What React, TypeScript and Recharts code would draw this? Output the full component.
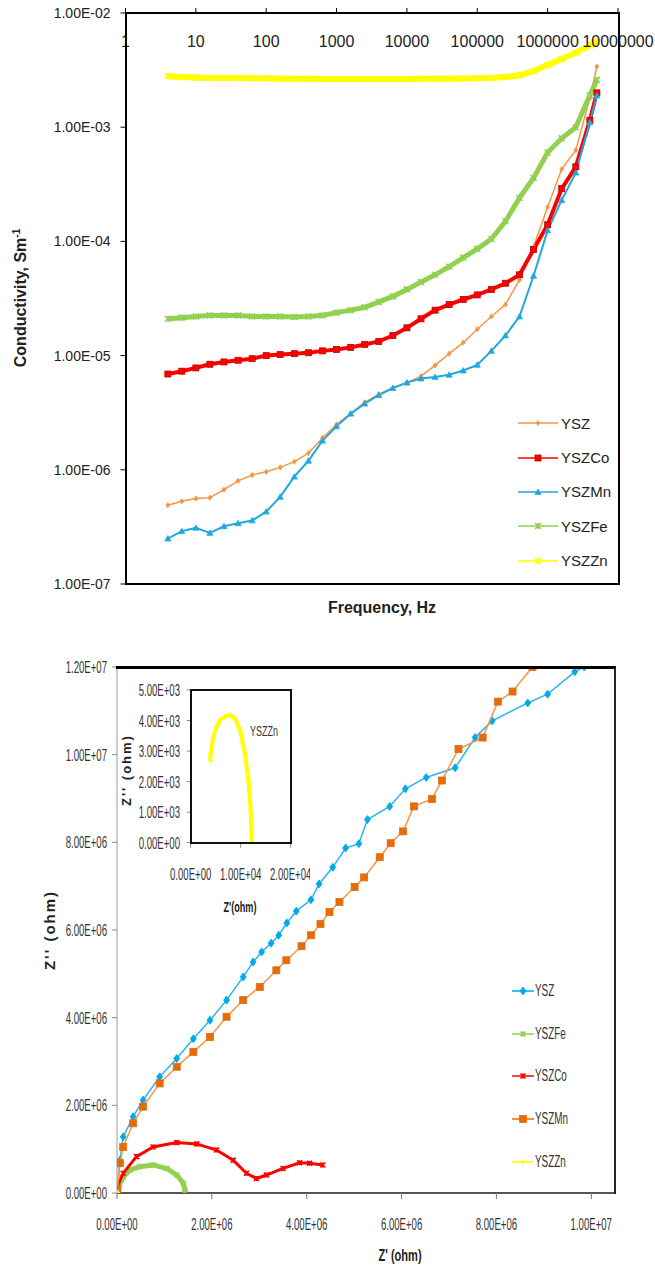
import React from 'react';
import { LineChart, Line, ScatterChart, Scatter, XAxis, YAxis } from 'recharts';

const FONT = '"Liberation Sans", Arial, sans-serif';

// ---- conductivity vs frequency (top panel) ----
const freqHz = [4, 6.3, 10, 15.8, 25.1, 39.8, 63.1, 100, 158, 251, 398, 631, 1000, 1585, 2512, 3981, 6310,
  10000, 15850, 25120, 39810, 63100, 100000, 158500, 251200, 398100, 631000, 1000000, 1585000, 2512000, 3981000, 5012000];
const condYSZ = [4.9e-7, 5.3e-7, 5.6e-7, 5.7e-7, 6.7e-7, 8.0e-7, 9.0e-7, 9.6e-7, 1.05e-6, 1.18e-6, 1.4e-6, 1.9e-6,
  2.5e-6, 3.1e-6, 3.9e-6, 4.6e-6, 5.2e-6, 5.8e-6, 6.6e-6, 8.2e-6, 1.04e-5, 1.3e-5, 1.7e-5, 2.2e-5, 2.8e-5, 4.6e-5,
  9.0e-5, 2.0e-4, 4.3e-4, 6.3e-4, 1.8e-3, 3.4e-3];
const condCo = [6.9e-6, 7.3e-6, 7.8e-6, 8.4e-6, 8.8e-6, 9.1e-6, 9.4e-6, 1.0e-5, 1.02e-5, 1.04e-5, 1.06e-5, 1.1e-5,
  1.13e-5, 1.18e-5, 1.25e-5, 1.33e-5, 1.5e-5, 1.75e-5, 2.1e-5, 2.5e-5, 2.8e-5, 3.1e-5, 3.4e-5, 3.8e-5, 4.3e-5, 5.1e-5,
  8.5e-5, 1.4e-4, 2.9e-4, 4.5e-4, 1.15e-3, 2.0e-3];
const condMn = [2.5e-7, 2.9e-7, 3.1e-7, 2.8e-7, 3.2e-7, 3.4e-7, 3.6e-7, 4.3e-7, 5.8e-7, 8.7e-7, 1.2e-6, 1.8e-6,
  2.4e-6, 3.1e-6, 3.8e-6, 4.5e-6, 5.2e-6, 5.8e-6, 6.3e-6, 6.5e-6, 6.8e-6, 7.4e-6, 8.3e-6, 1.1e-5, 1.5e-5, 2.2e-5,
  5.0e-5, 1.25e-4, 2.3e-4, 4.0e-4, 1.1e-3, 1.9e-3];
const condFe = [2.1e-5, 2.15e-5, 2.2e-5, 2.25e-5, 2.25e-5, 2.25e-5, 2.2e-5, 2.2e-5, 2.2e-5, 2.18e-5, 2.2e-5, 2.25e-5,
  2.38e-5, 2.5e-5, 2.65e-5, 2.95e-5, 3.3e-5, 3.8e-5, 4.4e-5, 5.1e-5, 6.0e-5, 7.2e-5, 8.6e-5, 1.05e-4, 1.5e-4, 2.4e-4,
  3.6e-4, 6.0e-4, 8.0e-4, 1.0e-3, 1.9e-3, 2.6e-3];
const condZn = [2.8e-3, 2.75e-3, 2.72e-3, 2.7e-3, 2.7e-3, 2.7e-3, 2.68e-3, 2.68e-3, 2.66e-3, 2.65e-3, 2.65e-3, 2.64e-3,
  2.64e-3, 2.64e-3, 2.64e-3, 2.64e-3, 2.64e-3, 2.64e-3, 2.65e-3, 2.65e-3, 2.66e-3, 2.67e-3, 2.68e-3, 2.7e-3, 2.75e-3,
  2.85e-3, 3.1e-3, 3.5e-3, 3.95e-3, 4.5e-3, 5.2e-3, 5.6e-3];
const freqTicks = [1, 10, 100, 1000, 10000, 100000, 1000000, 10000000];
const condTicks = [1e-7, 1e-6, 1e-5, 1e-4, 1e-3, 1e-2];

// ---- Nyquist plot (bottom panel), [Z', Z''] in ohm ----
const nyqYSZ = [[0.01e6, 0.1e6], [0.063e6, 0.75e6], [0.13e6, 1.28e6], [0.34e6, 1.74e6], [0.55e6, 2.12e6], [0.9e6, 2.65e6],
  [1.26e6, 3.07e6], [1.61e6, 3.52e6], [1.96e6, 3.94e6], [2.31e6, 4.4e6], [2.66e6, 4.93e6], [2.87e6, 5.27e6],
  [3.05e6, 5.5e6], [3.25e6, 5.7e6], [3.41e6, 5.88e6], [3.58e6, 6.16e6], [3.78e6, 6.43e6], [4.09e6, 6.69e6],
  [4.26e6, 7.05e6], [4.55e6, 7.43e6], [4.82e6, 7.87e6], [5.1e6, 7.97e6], [5.28e6, 8.52e6], [5.75e6, 8.82e6],
  [6.08e6, 9.22e6], [6.52e6, 9.48e6], [7.13e6, 9.7e6], [7.55e6, 10.39e6], [7.91e6, 10.77e6], [8.66e6, 11.18e6],
  [9.08e6, 11.38e6], [9.65e6, 11.89e6], [9.85e6, 12.0e6]];
const nyqMn = [[0.01e6, 0.1e6], [0.063e6, 0.68e6], [0.13e6, 1.05e6], [0.34e6, 1.59e6], [0.55e6, 1.97e6], [0.9e6, 2.5e6],
  [1.26e6, 2.88e6], [1.61e6, 3.22e6], [1.96e6, 3.56e6], [2.31e6, 4.02e6], [2.66e6, 4.4e6], [3.01e6, 4.7e6],
  [3.36e6, 5.08e6], [3.57e6, 5.31e6], [3.89e6, 5.63e6], [4.09e6, 5.88e6], [4.29e6, 6.14e6], [4.48e6, 6.41e6],
  [4.69e6, 6.64e6], [5.01e6, 6.98e6], [5.21e6, 7.2e6], [5.54e6, 7.66e6], [5.77e6, 7.98e6], [6.03e6, 8.25e6],
  [6.26e6, 8.82e6], [6.64e6, 8.99e6], [6.85e6, 9.41e6], [7.2e6, 10.13e6], [7.71e6, 10.39e6], [8.03e6, 11.21e6],
  [8.34e6, 11.44e6], [8.76e6, 12.0e6]];
const nyqFe = [[0.005e6, 0.07e6], [0.133e6, 0.37e6], [0.27e6, 0.52e6], [0.48e6, 0.6e6], [0.76e6, 0.64e6],
  [1.05e6, 0.56e6], [1.26e6, 0.41e6], [1.4e6, 0.22e6], [1.43e6, 0.07e6], [1.44e6, 0.02e6]];
const nyqCo = [[0.005e6, 0.14e6], [0.13e6, 0.45e6], [0.41e6, 0.83e6], [0.76e6, 1.05e6], [1.26e6, 1.15e6],
  [1.68e6, 1.12e6], [2.1e6, 0.98e6], [2.45e6, 0.75e6], [2.73e6, 0.45e6], [2.94e6, 0.33e6], [3.15e6, 0.41e6],
  [3.5e6, 0.56e6], [3.85e6, 0.69e6], [4.06e6, 0.68e6], [4.34e6, 0.64e6]];
const nyqZn = [[3900, 2700], [4000, 2930], [4520, 3470], [5200, 3800], [5860, 4020], [6860, 4125], [7860, 4180],
  [8860, 4070], [9860, 3690], [10860, 2930], [11530, 2050], [12000, 1070], [12200, 0]];
const zReTicks = [0, 2e6, 4e6, 6e6, 8e6, 1e7];
const zImTicks = [0, 2e6, 4e6, 6e6, 8e6, 1e7, 1.2e7];
const insetReTicks = [0, 1e4, 2e4];
const insetImTicks = [0, 1000, 2000, 3000, 4000, 5000];

const fmtSci = (v: number) => {
  if (v === 0) return '0.00E+00';
  const e = Math.floor(Math.log10(Math.abs(v)) + 1e-9);
  const m = v / Math.pow(10, e);
  return `${m.toFixed(2)}E${e < 0 ? '-' : '+'}${String(Math.abs(e)).padStart(2, '0')}`;
};

const condData = freqHz.map((f, i) => ({
  f, ysz: condYSZ[i], co: condCo[i], mn: condMn[i], fe: condFe[i], zn: condZn[i],
}));
const toXY = (pts: number[][]) => pts.map(([x, y]) => ({ x, y }));

type Kind = 'diamond' | 'square' | 'triangle' | 'star' | 'plus';

// small Excel-like marker shapes
const Marker = ({ cx, cy, kind, color, edge, s }: { cx: number; cy: number; kind: Kind; color: string; edge?: string; s: number }) => {
  if (cx == null || cy == null || isNaN(cx) || isNaN(cy)) return null;
  const e = edge || color;
  switch (kind) {
    case 'diamond':
      return <path d={`M${cx},${cy - s}L${cx + s * 0.75},${cy}L${cx},${cy + s}L${cx - s * 0.75},${cy}Z`} fill={color} stroke={e} strokeWidth={0.8} />;
    case 'square':
      return <rect x={cx - s} y={cy - s} width={2 * s} height={2 * s} fill={color} stroke={e} strokeWidth={0.8} />;
    case 'triangle':
      return <path d={`M${cx},${cy - s}L${cx + s},${cy + s * 0.8}L${cx - s},${cy + s * 0.8}Z`} fill={color} stroke={e} strokeWidth={0.8} />;
    case 'star':
      return <path d={`M${cx - s},${cy - s}L${cx + s},${cy + s}M${cx - s},${cy + s}L${cx + s},${cy - s}M${cx},${cy - s}L${cx},${cy + s}`} stroke={color} strokeWidth={1.6} fill="none" />;
    default:
      return <path d={`M${cx - s},${cy}L${cx + s},${cy}M${cx},${cy - s}L${cx},${cy + s}`} stroke={color} strokeWidth={1.6} fill="none" />;
  }
};

// compressed text, the lower chart uses a narrow face
const SqText = ({ x, y, sx = 0.6, anchor = 'middle', size = 16, weight = 'normal', rotate = false, fill = '#333', spacing = 0, children }: any) => (
  <text transform={`translate(${x},${y})${rotate ? ' rotate(-90)' : ''} scale(${sx},1)`} textAnchor={anchor}
    fontSize={size} fontWeight={weight} fill={fill} letterSpacing={spacing} fontFamily={FONT}>{children}</text>
);

const topSeries = [
  { key: 'ysz', name: 'YSZ', color: '#F79646', kind: 'diamond' as Kind, width: 1.5, s: 2.6 },
  { key: 'co', name: 'YSZCo', color: '#FF0000', edge: '#C00000', kind: 'square' as Kind, width: 4, s: 3 },
  { key: 'mn', name: 'YSZMn', color: '#1FA8E0', kind: 'triangle' as Kind, width: 2, s: 3 },
  { key: 'fe', name: 'YSZFe', color: '#92D050', kind: 'star' as Kind, width: 5, s: 3 },
  { key: 'zn', name: 'YSZZn', color: '#FFFF00', kind: 'star' as Kind, width: 6, s: 3 },
];

const bottomSeries = [
  { name: 'YSZ', pts: nyqYSZ, line: '#29B5EE', color: '#00A8EC', kind: 'diamond' as Kind, width: 1.5, s: 4 },
  { name: 'YSZFe', pts: nyqFe, line: '#92D050', color: '#92D050', kind: 'star' as Kind, width: 5, s: 2.5 },
  { name: 'YSZCo', pts: nyqCo, line: '#FF0000', color: '#FF0000', kind: 'star' as Kind, width: 3, s: 2.5 },
  { name: 'YSZMn', pts: nyqMn, line: '#F79646', color: '#E46C0A', kind: 'square' as Kind, width: 1.5, s: 3.5 },
  { name: 'YSZZn', pts: nyqZn, line: '#FFFF00', color: '#FFFF00', kind: 'plus' as Kind, width: 3, s: 2.5 },
];

const LegendIcon = ({ color, edge, kind, s, lineW = 40 }: any) => (
  <svg width={lineW} height={14} style={{ display: 'block' }}>
    <line x1={0} y1={7} x2={lineW} y2={7} stroke={color} strokeWidth={1.5} />
    <Marker cx={lineW / 2} cy={7} kind={kind} color={color} edge={edge} s={s} />
  </svg>
);

export default function App() {
  return (
    <div style={{ position: 'absolute', left: 0, top: 0, width: 655, height: 1273, background: '#fff', fontFamily: FONT, overflow: 'hidden' }}>
      {/* ---------- top: conductivity ---------- */}
      <div style={{ position: 'absolute', left: 0, top: 0 }}>
        <LineChart width={655} height={600} data={condData} margin={{ top: 0, right: 37, bottom: 16, left: 0 }}>
          <XAxis dataKey="f" type="number" scale="log" domain={[1, 1e7]} ticks={freqTicks} orientation="top" height={13}
            axisLine={false} tickSize={5} tickLine={{ stroke: '#000' }} interval={0} allowDataOverflow
            tick={(p: any) => <text x={p.x} y={p.y + 41} textAnchor="middle" fontSize={16} fill="#222" fontFamily={FONT}>{p.payload.value}</text>} />
          <YAxis type="number" scale="log" domain={[1e-7, 1e-2]} ticks={condTicks} width={125.5} axisLine={false}
            tickSize={5} tickMargin={10} tickLine={{ stroke: '#000' }} interval={0} allowDataOverflow tickFormatter={fmtSci}
            tick={{ fontSize: 14, fill: '#222', fontFamily: FONT }} />
          {topSeries.map((sr) => (
            <Line key={sr.key} dataKey={sr.key} name={sr.name} type="linear" stroke={sr.color} strokeWidth={sr.width}
              isAnimationActive={false}
              dot={(p: any) => <Marker key={`${sr.key}-${p.index}`} cx={p.cx} cy={p.cy} kind={sr.kind} color={sr.color} edge={sr.edge} s={sr.s} />} />
          ))}
        </LineChart>
      </div>
      <div style={{ position: 'absolute', left: 124.5, top: 12, width: 495, height: 573, border: '2px solid #000', boxSizing: 'border-box' }} />
      <div style={{ position: 'absolute', left: 518, top: 406, width: 100 }}>
        {topSeries.map((sr) => (
          <div key={sr.name} style={{ height: 34.4, display: 'flex', alignItems: 'center' }}>
            <LegendIcon color={sr.color} edge={sr.edge} kind={sr.kind} s={sr.s} lineW={40} />
            <span style={{ fontSize: 15, color: '#222', marginLeft: 3 }}>{sr.name}</span>
          </div>
        ))}
      </div>
      <div style={{ position: 'absolute', left: 17 - 110, top: 298 - 11, width: 220, height: 22, lineHeight: '22px', textAlign: 'center',
        transform: 'rotate(-90deg)', fontWeight: 'bold', fontSize: 16, color: '#222', whiteSpace: 'nowrap' }}>
        Conductivity, Sm<sup style={{ fontSize: 10 }}>-1</sup>
      </div>
      <div style={{ position: 'absolute', left: 382 - 100, top: 599, width: 200, textAlign: 'center', fontWeight: 'bold', fontSize: 16, color: '#222' }}>
        Frequency, Hz
      </div>

      {/* ---------- bottom: Nyquist ---------- */}
      <div style={{ position: 'absolute', left: 0, top: 640 }}>
        <ScatterChart width={655} height={633} margin={{ top: 27, right: 40, bottom: 0, left: 0 }}>
          <XAxis type="number" dataKey="x" domain={[0, 10.5e6]} ticks={zReTicks} height={80} tickSize={6} interval={0}
            allowDataOverflow tickLine={{ stroke: '#777' }} axisLine={{ stroke: '#555', strokeWidth: 2 }}
            tick={(p: any) => <SqText x={p.x} y={p.y + 29}>{fmtSci(p.payload.value)}</SqText>} />
          <YAxis type="number" dataKey="y" domain={[0, 1.2e7]} ticks={zImTicks} width={117} tickSize={5} tickMargin={5}
            interval={0} allowDataOverflow tickLine={{ stroke: '#888' }} axisLine={{ stroke: '#999', strokeWidth: 1 }}
            tick={(p: any) => <SqText x={p.x} y={p.y + 6} anchor="end">{fmtSci(p.payload.value)}</SqText>} />
          {bottomSeries.map((sr) => (
            <Scatter key={sr.name} name={sr.name} data={toXY(sr.pts)} fill={sr.color} isAnimationActive={false}
              line={{ stroke: sr.line, strokeWidth: sr.width }}
              shape={(p: any) => <Marker cx={p.cx} cy={p.cy} kind={sr.kind} color={sr.color} s={sr.s} />} />
          ))}
        </ScatterChart>
      </div>
      <div style={{ position: 'absolute', left: 116, top: 666, width: 500, height: 528, borderTop: '3px solid #000', borderRight: '2px solid #222', boxSizing: 'border-box' }} />
      <div style={{ position: 'absolute', left: 512, top: 969.6, width: 100 }}>
        {bottomSeries.map((sr) => (
          <div key={sr.name} style={{ height: 42.75, display: 'flex', alignItems: 'center' }}>
            <LegendIcon color={sr.color} kind={sr.kind} s={sr.s} lineW={22} />
            <span style={{ fontSize: 17, color: '#333', display: 'inline-block', transform: 'scaleX(0.58)', transformOrigin: 'left center', marginLeft: 1 }}>{sr.name}</span>
          </div>
        ))}
      </div>
      <div style={{ position: 'absolute', left: 400 - 60, top: 1246, width: 120, textAlign: 'center', fontWeight: 'bold', fontSize: 17, color: '#222', transform: 'scaleX(0.65)' }}>
        Z' (ohm)
      </div>
      <div style={{ position: 'absolute', left: 50 - 60, top: 930 - 11, width: 120, height: 22, lineHeight: '22px', textAlign: 'center',
        transform: 'rotate(-90deg)', fontWeight: 'bold', fontSize: 15, letterSpacing: 2, color: '#222', whiteSpace: 'nowrap' }}>
        Z'' (ohm)
      </div>

      {/* ---------- inset: YSZZn ---------- */}
      <div style={{ position: 'absolute', left: 189.7, top: 689, width: 102, height: 154.7, background: '#fff' }} />
      <div style={{ position: 'absolute', left: 118, top: 670, width: 192, height: 260 }}>
        <ScatterChart width={192} height={260} margin={{ top: 20, right: 19.3, bottom: 0, left: 0 }}>
          <XAxis type="number" dataKey="x" domain={[0, 2e4]} ticks={insetReTicks} height={87.3} tickSize={5} interval={0}
            allowDataOverflow tickLine={{ stroke: '#888' }} axisLine={false}
            tick={(p: any) => <SqText x={p.x} y={p.y + 30}>{fmtSci(p.payload.value)}</SqText>} />
          <YAxis type="number" dataKey="y" domain={[0, 5000]} ticks={insetImTicks} width={72.7} tickSize={4} tickMargin={6.7}
            interval={0} allowDataOverflow tickLine={{ stroke: '#888' }} axisLine={false}
            tick={(p: any) => <SqText x={p.x} y={p.y + 6} anchor="end">{fmtSci(p.payload.value)}</SqText>} />
          <Scatter name="YSZZn" data={toXY(nyqZn)} fill="#FFFF00" isAnimationActive={false}
            line={{ stroke: '#FFFF00', strokeWidth: 4 }}
            shape={(p: any) => <Marker cx={p.cx} cy={p.cy} kind="plus" color="#FFFF00" s={2.5} />} />
        </ScatterChart>
      </div>
      <div style={{ position: 'absolute', left: 189.7, top: 689, width: 102, height: 154.7, border: '2px solid #111', boxSizing: 'border-box' }} />
      <div style={{ position: 'absolute', left: 250, top: 723, fontSize: 14, color: '#333', transform: 'scaleX(0.64)', transformOrigin: 'left top' }}>YSZZn</div>
      <div style={{ position: 'absolute', left: 240 - 50, top: 899, width: 100, textAlign: 'center', fontWeight: 'bold', fontSize: 14, color: '#222', transform: 'scaleX(0.65)' }}>
        Z'(ohm)
      </div>
      <div style={{ position: 'absolute', left: 127 - 50, top: 770 - 9, width: 100, height: 18, lineHeight: '18px', textAlign: 'center',
        transform: 'rotate(-90deg)', fontWeight: 'bold', fontSize: 13, letterSpacing: 2, color: '#222', whiteSpace: 'nowrap' }}>
        Z'' (ohm)
      </div>
    </div>
  );
}
